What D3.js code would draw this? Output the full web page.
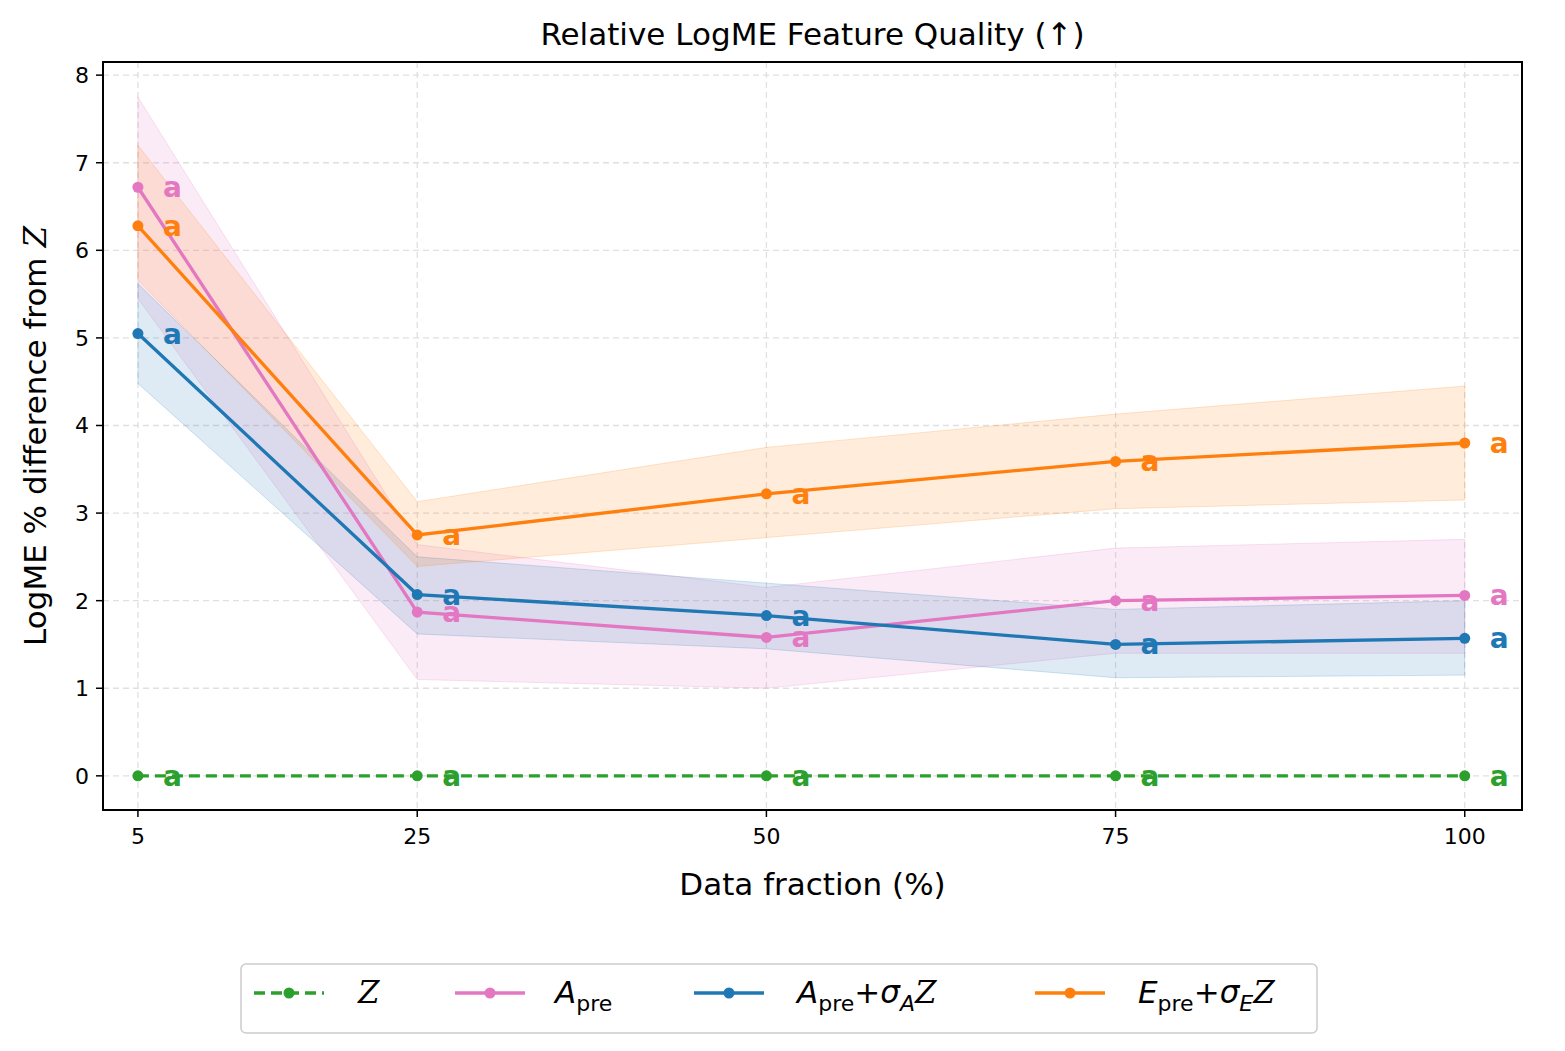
<!DOCTYPE html>
<html><head><meta charset="utf-8">
<script src="https://cdn.jsdelivr.net/npm/d3@7"></script>
<style>body{margin:0;background:#fff}text{font-family:"DejaVu Sans",sans-serif}</style>
</head><body><svg id="c" width="1565" height="1051"></svg>
<script>
const fractions=[5,25,50,75,100];
const xTicks=[5,25,50,75,100];
const yTicks=[0,1,2,3,4,5,6,7,8];
const zMean=[0,0,0,0,0];
const aMean=[6.72,1.87,1.58,2.00,2.06];
const aLow=[5.45,1.10,1.00,1.40,1.40];
const aHigh=[7.75,2.64,2.15,2.60,2.70];
const bMean=[5.05,2.07,1.83,1.50,1.57];
const bLow=[4.48,1.62,1.45,1.12,1.15];
const bHigh=[5.62,2.50,2.20,1.90,2.00];
const oMean=[6.28,2.75,3.22,3.59,3.80];
const oLow=[5.66,2.39,2.72,3.05,3.15];
const oHigh=[7.20,3.13,3.75,4.13,4.45];

const svg=d3.select("#c");
const L=103,R=1522,T=62,B=810;
const x=d3.scaleLinear().domain([2.5,104.1]).range([L,R]);
const y=d3.scaleLinear().domain([-0.39,8.15]).range([B,T]);
const g=svg.append("g");
xTicks.forEach(t=>g.append("line").attr("x1",x(t)).attr("x2",x(t)).attr("y1",T).attr("y2",B).attr("stroke","#e0e0e0").attr("stroke-width",1.3).attr("stroke-dasharray","6,4"));
yTicks.forEach(t=>g.append("line").attr("x1",L).attr("x2",R).attr("y1",y(t)).attr("y2",y(t)).attr("stroke","#e0e0e0").attr("stroke-width",1.3).attr("stroke-dasharray","6,4"));

const series=[
 {m:aMean,lo:aLow,hi:aHigh,c:"#e377c2"},
 {m:bMean,lo:bLow,hi:bHigh,c:"#1f77b4"},
 {m:oMean,lo:oLow,hi:oHigh,c:"#ff7f0e"},
 {m:zMean,c:"#2ca02c",dash:"11,6"}
];
const area=d3.area().x((d,i)=>x(fractions[i])).y0(d=>y(d[0])).y1(d=>y(d[1]));
series.forEach(s=>{if(!s.lo)return;
 g.append("path").attr("d",area(s.lo.map((v,i)=>[v,s.hi[i]]))).attr("fill",s.c).attr("fill-opacity",0.15).attr("stroke",s.c).attr("stroke-opacity",0.2);
});
const line=d3.line().x((d,i)=>x(fractions[i])).y(d=>y(d));
series.forEach(s=>{
 g.append("path").attr("d",line(s.m)).attr("fill","none").attr("stroke",s.c).attr("stroke-width",3.3).attr("stroke-dasharray",s.dash||null);
 s.m.forEach((v,i)=>{
  g.append("circle").attr("cx",x(fractions[i])).attr("cy",y(v)).attr("r",5.5).attr("fill",s.c);
  g.append("text").attr("x",x(fractions[i])+25).attr("y",y(v)+10).attr("fill",s.c).attr("font-size",28).attr("font-weight","bold").text("a");
 });
});
g.append("rect").attr("x",L).attr("y",T).attr("width",R-L).attr("height",B-T).attr("fill","none").attr("stroke","#000").attr("stroke-width",2);
xTicks.forEach(t=>{g.append("line").attr("x1",x(t)).attr("x2",x(t)).attr("y1",B).attr("y2",B+7).attr("stroke","#000").attr("stroke-width",1.5);
 g.append("text").attr("x",x(t)).attr("y",B+34).attr("text-anchor","middle").attr("font-size",22).text(t);});
yTicks.forEach(t=>{g.append("line").attr("x1",L-7).attr("x2",L).attr("y1",y(t)).attr("y2",y(t)).attr("stroke","#000").attr("stroke-width",1.5);
 g.append("text").attr("x",L-14).attr("y",y(t)+8).attr("text-anchor","end").attr("font-size",22).text(t);});
svg.append("text").attr("x",(L+R)/2).attr("y",45).attr("text-anchor","middle").attr("font-size",31).text("Relative LogME Feature Quality (↑)");
svg.append("text").attr("x",(L+R)/2).attr("y",895).attr("text-anchor","middle").attr("font-size",31).text("Data fraction (%)");
const yl=svg.append("text").attr("transform",`translate(46,${(T+B)/2}) rotate(-90)`).attr("text-anchor","middle").attr("font-size",31);
yl.append("tspan").text("LogME % difference from ");
yl.append("tspan").attr("font-family","DejaVu Serif").attr("font-style","italic").text("Z");
const lg=svg.append("g");
lg.append("rect").attr("x",241).attr("y",964).attr("width",1076).attr("height",69).attr("rx",5).attr("fill","#fff").attr("stroke","#ccc").attr("stroke-width",1.5);
const items=[
 {c:"#2ca02c",dash:"11,6",parts:[["Z","it"]]},
 {c:"#e377c2",parts:[["A","it"],["pre","sub"]]},
 {c:"#1f77b4",parts:[["A","it"],["pre","sub"],["+",""],["σ","it"],["A","subit"],["Z","it"]]},
 {c:"#ff7f0e",parts:[["E","it"],["pre","sub"],["+",""],["σ","it"],["E","subit"],["Z","it"]]}
];
const pos=[[254,358],[455,555],[694,797],[1035,1138]];
items.forEach((it,k)=>{
 const [x0,tx]=pos[k];
 lg.append("line").attr("x1",x0).attr("x2",x0+70).attr("y1",993).attr("y2",993).attr("stroke",it.c).attr("stroke-width",3.3).attr("stroke-dasharray",it.dash||null);
 lg.append("circle").attr("cx",x0+35).attr("cy",993).attr("r",5.5).attr("fill",it.c);
 const t=lg.append("text").attr("x",tx).attr("y",1003).attr("font-size",31);
 let prevSub=false;
 it.parts.forEach(p=>{
  const sp=t.append("tspan").text(p[0]);
  const isSub=p[1]==="sub"||p[1]==="subit";
  if(p[1]==="it"||p[1]==="subit")sp.attr("font-style","italic");
  if(p[0]==="Z")sp.attr("font-family","DejaVu Serif");
  if(isSub)sp.attr("font-size",22);
  sp.attr("dy",isSub&&!prevSub?8:(!isSub&&prevSub?-8:0));
  prevSub=isSub;
 });
});
</script></body></html>
